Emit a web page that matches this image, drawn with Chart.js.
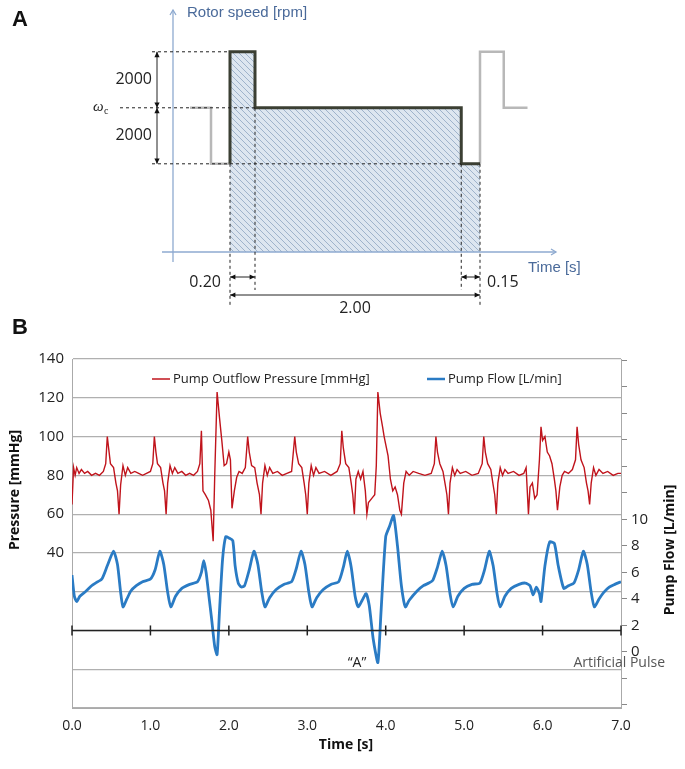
<!DOCTYPE html>
<html>
<head>
<meta charset="utf-8">
<script src="https://cdn.jsdelivr.net/npm/chart.js@4"></script>
<style>
  body { margin: 0; background: #fff; }
  #wrapA { position: absolute; left: 0; top: 0; width: 685px; height: 318px; }
  #wrapB { position: absolute; left: 0; top: 318px; width: 685px; height: 451px; }
</style>
</head>
<body>
<div id="wrapA"><canvas id="chartA"></canvas></div>
<div id="wrapB"><canvas id="chartB"></canvas></div>
<script>
// ── Panel A data (time [s], rotor speed in rpm, ωc taken as 5150) ──────────
const rotorT = [0, 0, 0.2, 0.2, 1.85, 1.85, 2.0];
const rotorV = [3150, 7150, 7150, 5150, 5150, 3150, 3150];
const preT = [-0.32, -0.152, -0.152, 0];
const preV = [5150, 5150, 3150, 3150];
const postT = [2.0, 2.0, 2.19, 2.19, 2.38];
const postV = [3150, 7150, 7150, 5150, 5150];

// ── Panel B data ─────────────────────────────────────────────────────────
const pressT = [0.00,0.02,0.04,0.06,0.09,0.12,0.16,0.20,0.25,0.30,0.35,0.40,0.43,0.45,0.47,0.49,0.53,0.56,0.58,0.60,0.62,0.65,0.68,0.71,0.75,0.80,0.85,0.90,0.95,1.00,
  1.03,1.05,1.07,1.09,1.13,1.16,1.18,1.20,1.22,1.25,1.28,1.31,1.35,1.40,1.45,1.50,1.55,1.60,1.63,1.65,1.67,1.70,1.74,1.77,1.80,1.82,1.85,1.88,1.91,1.94,1.97,2.00,2.02,2.04,2.07,2.10,2.13,2.17,2.21,
  2.24,2.26,2.29,2.33,2.36,2.39,2.41,2.43,2.46,2.49,2.52,2.56,2.62,2.68,2.74,2.80,2.84,2.86,2.89,2.93,2.96,2.98,3.00,3.02,3.05,3.08,3.11,3.15,3.22,3.30,3.38,3.42,
  3.44,3.46,3.49,3.53,3.56,3.58,3.60,3.62,3.65,3.68,3.71,3.74,3.76,3.78,3.82,3.86,3.88,3.90,3.93,3.96,3.98,4.00,4.03,4.06,4.09,4.12,4.15,4.18,4.20,4.23,4.26,4.30,4.35,4.42,4.50,4.58,4.62,
  4.64,4.66,4.69,4.73,4.76,4.78,4.80,4.82,4.85,4.88,4.91,4.95,5.02,5.10,5.18,5.23,5.25,5.27,5.30,5.34,5.37,5.39,5.41,5.43,5.46,5.49,5.52,5.56,5.63,5.70,5.76,5.79,5.82,5.84,5.87,5.90,5.93,5.96,
  5.98,6.00,6.03,6.06,6.09,6.12,6.15,6.17,6.19,6.22,6.25,6.28,6.33,6.38,6.42,6.44,6.46,6.49,6.53,6.56,6.58,6.60,6.62,6.65,6.68,6.72,6.77,6.83,6.90,6.96,7.00];
const pressV = [65,84,80,84,81,83,81,82,80,81,80,82,86,100,93,86,84,76,72,60,75,85,80,84,81,82,81,80,81,82,
  86,100,92,86,84,76,72,60,76,85,81,84,81,82,80,81,80,82,86,103,72,70,67,62,46,80,123,110,98,85,86,92,88,63,72,79,82,81,84,
  100,92,85,84,76,70,60,76,85,80,84,81,82,80,81,82,100,92,86,84,76,70,60,76,85,80,84,81,82,80,82,86,
  103,94,86,84,76,70,60,78,82,78,82,72,60,66,68,70,85,123,112,105,100,96,90,78,72,74,70,62,60,76,82,80,82,81,80,81,86,
  100,92,86,82,75,70,60,76,84,80,83,81,82,80,81,86,100,92,86,83,75,70,60,76,84,80,83,81,82,80,81,84,60,74,76,68,70,88,
  105,98,100,92,90,86,78,72,62,74,80,82,81,83,88,105,96,88,84,76,72,65,76,84,80,83,81,82,80,81,81];
const flowT = [0,0.03,0.06,0.1,0.18,0.25,0.3,0.38,0.45,0.53,0.58,0.62,0.65,0.7,0.75,0.82,0.9,1.0,1.06,1.12,1.17,1.22,1.26,1.32,1.4,1.5,1.6,1.65,1.68,1.71,1.74,1.78,1.82,1.85,1.88,1.92,1.96,2.0,2.05,2.08,2.12,2.16,2.2,
  2.26,2.32,2.37,2.42,2.46,2.52,2.6,2.7,2.8,2.86,2.92,2.97,3.02,3.06,3.12,3.2,3.3,3.4,3.46,3.51,3.56,3.61,3.65,3.7,3.75,3.79,3.84,3.9,3.94,4.0,4.05,4.1,4.15,4.2,4.25,4.3,4.4,4.48,4.55,4.6,
  4.66,4.72,4.77,4.82,4.86,4.92,5.0,5.1,5.2,5.26,5.32,5.37,5.42,5.46,5.52,5.6,5.7,5.78,5.84,5.88,5.92,5.96,5.98,6.03,6.09,6.15,6.2,6.27,6.33,6.4,6.46,6.52,6.57,6.62,6.66,6.72,6.78,6.85,6.92,7.0];
const flowV = [5.8,4.2,3.8,4.2,4.6,5.0,5.2,5.5,6.5,7.6,6.6,4.5,3.4,4.0,4.6,5.0,5.3,5.5,6.2,7.6,6.6,4.5,3.4,4.2,4.8,5.1,5.3,6.0,6.9,6.0,4.5,2.5,0.4,-0.2,3.0,7.0,8.7,8.6,8.4,6.5,5.2,4.9,5.0,
  6.2,7.6,6.6,4.5,3.4,4.1,4.7,5.1,5.3,6.3,7.6,6.6,4.5,3.4,4.1,4.7,5.1,5.3,6.4,7.6,6.4,4.2,3.4,3.9,4.4,3.5,1.0,-0.8,3.0,8.7,9.5,10.3,8.0,5.0,3.4,3.9,4.6,5.0,5.2,5.4,
  6.4,7.6,6.5,4.4,3.4,4.2,4.8,5.1,5.2,6.2,7.6,6.5,4.4,3.4,4.2,4.8,5.1,5.2,5.0,4.3,4.9,4.4,3.8,6.5,8.3,8.2,6.5,4.8,5.0,5.2,6.2,7.6,6.6,4.5,3.4,4.0,4.5,4.9,5.1,5.3];
const timeTicks = [0, 1, 2, 3, 4, 5, 6, 7];

const pts = (xs, ys) => xs.map((x, i) => ({ x, y: ys[i] }));
const FONT = "'Open Sans', 'Liberation Sans', sans-serif";

// hatched fill for panel A
const pat = document.createElement("canvas");
pat.width = 6; pat.height = 6;
const pc = pat.getContext("2d");
pc.fillStyle = "#dde6f0"; pc.fillRect(0, 0, 6, 6);
pc.strokeStyle = "#8fa6c2"; pc.lineWidth = 0.8;
pc.beginPath(); pc.moveTo(0, 0); pc.lineTo(6, 6); pc.moveTo(-3, 3); pc.lineTo(3, 9); pc.moveTo(3, -3); pc.lineTo(9, 3); pc.stroke();
const hatch = pc.createPattern(pat, "repeat");

function arrowHead(ctx, x, y, dir, size) {
  ctx.beginPath();
  ctx.moveTo(x, y);
  ctx.lineTo(x - size * Math.cos(dir - 0.45), y - size * Math.sin(dir - 0.45));
  ctx.lineTo(x - size * Math.cos(dir + 0.45), y - size * Math.sin(dir + 0.45));
  ctx.closePath();
  ctx.fill();
}

const panelAPlugin = {
  id: "panelA",
  afterDatasetsDraw(chart) {
    const { ctx } = chart;
    const sx = chart.scales.x, sy = chart.scales.y;
    const X = (t) => sx.getPixelForValue(t), Y = (v) => sy.getPixelForValue(v);
    const yHi = Y(7150), yMid = Y(5150), yLo = Y(3150), yAx = Y(0);
    ctx.save();
    // axes
    ctx.strokeStyle = "#8eaad0"; ctx.fillStyle = "#8eaad0"; ctx.lineWidth = 1.3;
    ctx.beginPath(); ctx.moveTo(X(-0.456), 262); ctx.lineTo(X(-0.456), 10); ctx.stroke();
    ctx.beginPath(); ctx.moveTo(162, yAx); ctx.lineTo(556, yAx); ctx.stroke();
    ctx.beginPath(); ctx.moveTo(X(-0.456) - 3, 15); ctx.lineTo(X(-0.456), 10); ctx.lineTo(X(-0.456) + 3, 15); ctx.stroke();
    ctx.beginPath(); ctx.moveTo(551, yAx - 3); ctx.lineTo(556, yAx); ctx.lineTo(551, yAx + 3); ctx.stroke();
    // dashed guides
    ctx.strokeStyle = "#222"; ctx.lineWidth = 1; ctx.setLineDash([3, 3]);
    const dl = (x1, y1, x2, y2) => { ctx.beginPath(); ctx.moveTo(x1, y1); ctx.lineTo(x2, y2); ctx.stroke(); };
    dl(152, yHi, X(0), yHi);
    dl(120, yMid, X(0.2), yMid);
    dl(152, yLo, X(1.85), yLo);
    dl(X(0), yLo, X(0), 305);
    dl(X(0.2), yMid, X(0.2), 290);
    dl(X(1.85), yLo, X(1.85), 290);
    dl(X(2.0), yLo, X(2.0), 305);
    ctx.setLineDash([]);
    // dimension arrows
    ctx.fillStyle = "#111";
    const dim = (x1, y1, x2, y2) => {
      ctx.beginPath(); ctx.moveTo(x1, y1); ctx.lineTo(x2, y2); ctx.stroke();
      const a = Math.atan2(y2 - y1, x2 - x1);
      arrowHead(ctx, x2, y2, a, 6); arrowHead(ctx, x1, y1, a + Math.PI, 6);
    };
    dim(157, yHi, 157, yMid);
    dim(157, yMid, 157, yLo);
    dim(X(0), 277, X(0.2), 277);
    dim(X(0), 295, X(2.0), 295);
    dim(X(1.85), 277, X(2.0), 277);
    // texts
    ctx.fillStyle = "#222"; ctx.font = "16px " + FONT; ctx.textBaseline = "middle"; ctx.textAlign = "right";
    ctx.fillText("2000", 152, (yHi + yMid) / 2);
    ctx.fillText("2000", 152, (yMid + yLo) / 2);
    ctx.fillText("0.20", 221, 282);
    ctx.textAlign = "center";
    ctx.fillText("2.00", (X(0) + X(2.0)) / 2, 308);
    ctx.textAlign = "left";
    ctx.fillText("0.15", 487, 282);
    ctx.font = "italic 15px 'Liberation Serif', serif";
    ctx.fillText("ω", 93, yMid - 1);
    ctx.font = "10px 'Liberation Serif', serif";
    ctx.fillText("c", 104, yMid + 4);
    ctx.fillStyle = "#4a6a9a"; ctx.font = "15px 'Liberation Sans Narrow', 'Liberation Sans', sans-serif";
    ctx.fillText("Rotor speed [rpm]", 187, 13);
    ctx.fillText("Time [s]", 528, 268);
    ctx.fillStyle = "#111"; ctx.font = "bold 22px 'Liberation Sans', sans-serif";
    ctx.fillText("A", 12, 20);
    ctx.restore();
  },
};

new Chart(document.getElementById("chartA"), {
  type: "line",
  data: {
    datasets: [
      { data: pts(rotorT, rotorV), borderColor: "#3b3f33", borderWidth: 3, pointRadius: 0, fill: "origin", backgroundColor: hatch },
      { data: pts(preT, preV), borderColor: "#b8b8b8", borderWidth: 2.5, pointRadius: 0 },
      { data: pts(postT, postV), borderColor: "#b8b8b8", borderWidth: 2.5, pointRadius: 0 },
    ],
  },
  options: {
    responsive: true, maintainAspectRatio: false, animation: false,
    layout: { padding: { left: 173, right: 127, top: 8, bottom: 66 } },
    plugins: { legend: { display: false }, tooltip: { enabled: false } },
    scales: {
      x: { type: "linear", min: -0.456, max: 2.624, display: false },
      y: { min: 0, max: 8714, display: false },
    },
  },
  plugins: [panelAPlugin],
});

// panel B canvas starts at page y=318
const OFF = 12;
const panelBPlugin = {
  id: "panelB",
  afterDraw(chart) {
    const { ctx, chartArea } = chart;
    const sx = chart.scales.x, sy = chart.scales.y;
    ctx.save();
    // black zero line with ticks
    const y0 = sy.getPixelForValue(0);
    ctx.strokeStyle = "#222"; ctx.lineWidth = 1.5;
    ctx.beginPath(); ctx.moveTo(chartArea.left, y0); ctx.lineTo(chartArea.right, y0); ctx.stroke();
    timeTicks.forEach((t) => {
      const x = sx.getPixelForValue(t);
      ctx.beginPath(); ctx.moveTo(x, y0 - 5); ctx.lineTo(x, y0 + 5); ctx.stroke();
    });
    // legend
    ctx.font = "13px " + FONT; ctx.textBaseline = "middle"; ctx.fillStyle = "#222"; ctx.textAlign = "left";
    ctx.lineWidth = 1.5; ctx.strokeStyle = "#c0141c";
    ctx.beginPath(); ctx.moveTo(152, 49 + OFF); ctx.lineTo(170, 49 + OFF); ctx.stroke();
    ctx.fillText("Pump Outflow Pressure [mmHg]", 173, 49 + OFF);
    ctx.lineWidth = 2.5; ctx.strokeStyle = "#2a7bc4";
    ctx.beginPath(); ctx.moveTo(427, 49 + OFF); ctx.lineTo(445, 49 + OFF); ctx.stroke();
    ctx.fillText("Pump Flow [L/min]", 448, 49 + OFF);
    // annotations
    ctx.font = "14px " + FONT; ctx.textAlign = "center";
    ctx.fillText("\u201cA\u201d", 357, 333 + OFF);
    ctx.fillStyle = "#555"; ctx.textAlign = "right";
    ctx.fillText("Artificial Pulse", 665, 333 + OFF);
    // titles
    ctx.fillStyle = "#111"; ctx.font = "bold 14px " + FONT; ctx.textAlign = "center";
    ctx.fillText("Time [s]", 346, 415 + OFF);
    ctx.save(); ctx.translate(15, 160 + OFF); ctx.rotate(-Math.PI / 2); ctx.fillText("Pressure [mmHg]", 0, 0); ctx.restore();
    ctx.save(); ctx.translate(670, 220 + OFF); ctx.rotate(-Math.PI / 2); ctx.fillText("Pump Flow [L/min]", 0, 0); ctx.restore();
    ctx.font = "bold 22px 'Liberation Sans', sans-serif"; ctx.textAlign = "left";
    ctx.fillText("B", 12, 10);
    ctx.restore();
  },
};

new Chart(document.getElementById("chartB"), {
  type: "line",
  data: {
    datasets: [
      { data: pts(pressT, pressV), yAxisID: "y", borderColor: "#c0141c", borderWidth: 1.4, pointRadius: 0, tension: 0 },
      { data: pts(flowT, flowV), yAxisID: "y2", borderColor: "#2a7bc4", borderWidth: 2.8, pointRadius: 0, tension: 0.2 },
    ],
  },
  options: {
    responsive: true, maintainAspectRatio: false, animation: false,
    layout: { padding: { top: 29 + OFF, left: 0, right: 0, bottom: 0 } },
    plugins: { legend: { display: false }, tooltip: { enabled: false } },
    scales: {
      x: {
        type: "linear", min: 0, max: 7,
        afterBuildTicks: (s) => { s.ticks = timeTicks.map((v) => ({ value: v })); },
        afterFit: (s) => { s.height = 61; },
        grid: { display: false },
        border: { color: "#aaa" },
        ticks: { color: "#222", font: { size: 14, family: FONT }, padding: 2, callback: (v) => Number(v).toFixed(1) },
      },
      y: {
        min: -40, max: 140,
        afterBuildTicks: (s) => { s.ticks = [-40, -20, 0, 20, 40, 60, 80, 100, 120, 140].map((v) => ({ value: v })); },
        afterFit: (s) => { s.width = 72; },
        grid: { color: "#b0b0b0", lineWidth: 1.2, drawTicks: false },
        border: { color: "#aaa" },
        ticks: { color: "#222", font: { size: 15, family: FONT }, padding: 8, callback: (v) => (v >= 40 ? String(v) : "") },
      },
      y2: {
        position: "right", min: -4.23, max: 22.11,
        afterBuildTicks: (s) => { s.ticks = [-4, -2, 0, 2, 4, 6, 8, 10, 12, 14, 16, 18, 20, 22].map((v) => ({ value: v })); },
        afterFit: (s) => { s.width = 64; },
        grid: { drawOnChartArea: false, color: "#888", tickLength: 6 },
        border: { color: "#aaa" },
        ticks: { color: "#222", font: { size: 15, family: FONT }, padding: 4, callback: (v) => (v >= 0 && v <= 10 ? String(v) : "") },
      },
    },
  },
  plugins: [panelBPlugin],
});
</script>
</body>
</html>
